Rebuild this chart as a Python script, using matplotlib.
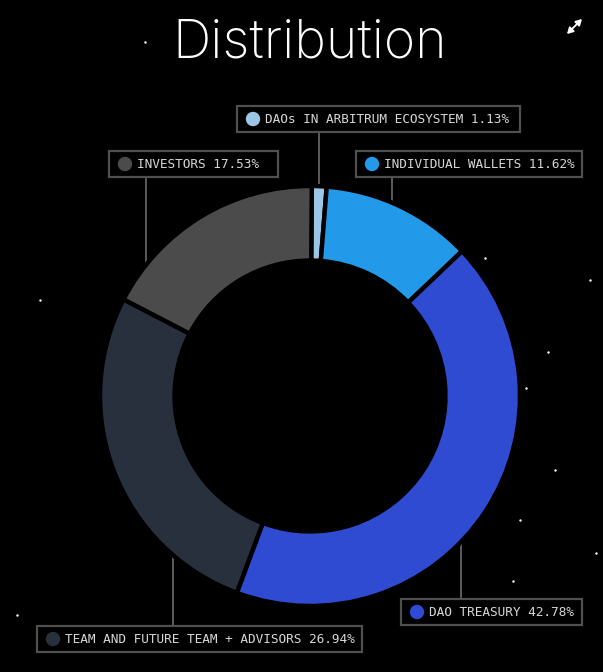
import numpy as np
import matplotlib.pyplot as plt
from matplotlib.patches import Rectangle, Circle

labels = ['DAOs IN ARBITRUM ECOSYSTEM', 'INDIVIDUAL WALLETS', 'DAO TREASURY',
          'TEAM AND FUTURE TEAM + ADVISORS', 'INVESTORS']
shares = [1.13, 11.62, 42.78, 26.94, 17.53]
colors = ['#9cc6e6', '#2299e9', '#2e4bd2', '#29303d', '#4b4b4b']

# label box layout (pixels): left, top, width, leader x, leader side
boxes = [(237, 106, 283, 319, 'top'),
         (356, 151, 226, 392, 'top'),
         (401, 599, 181, 461, 'bottom'),
         (37, 626, 325, 173, 'bottom'),
         (109, 151, 169, 146, 'top')]

stars = [(145, 42), (485, 258), (548, 352), (526, 388), (513, 581), (17, 615),
         (596, 553), (520, 520), (555, 470), (40, 300), (590, 280)]

W, H = 603, 672
cx, cy, R = 310, 396, 210

fig = plt.figure(figsize=(W / 100, H / 100), dpi=100, facecolor='black')

# pie axes
ax = fig.add_axes([(cx - R) / W, (H - cy - R) / H, 2 * R / W, 2 * R / H])
ax.set_facecolor('black')
ax.pie(shares, colors=colors, startangle=89.5, counterclock=False, radius=1.0,
       wedgeprops=dict(width=0.355, edgecolor='black', linewidth=3.2, joinstyle='round'))
ax.set_xlim(-1, 1)
ax.set_ylim(-1, 1)
ax.set_aspect('equal')
ax.axis('off')

# overlay in pixel coordinates
ov = fig.add_axes([0, 0, 1, 1], zorder=-1)
ov.set_xlim(0, W)
ov.set_ylim(H, 0)
ov.axis('off')
ov.set_facecolor('black')

ov2 = fig.add_axes([0, 0, 1, 1], zorder=5)
ov2.set_xlim(0, W)
ov2.set_ylim(H, 0)
ov2.axis('off')
ov2.patch.set_alpha(0)

for (x0, y0, bw, lx, side), lab, val, col in zip(boxes, labels, shares, colors):
    bh = 26
    dy = np.sqrt(max(R ** 2 - (lx - cx) ** 2, 0))
    if side == 'top':
        ov.plot([lx, lx], [y0 + bh, cy - dy + 3], color='#6a6a6a', lw=1.2)
    else:
        ov.plot([lx, lx], [cy + dy - 3, y0], color='#6a6a6a', lw=1.2)
    ov2.add_patch(Rectangle((x0, y0), bw, bh, facecolor='black',
                            edgecolor='#4f4f4f', lw=1.6))
    ov2.add_patch(Circle((x0 + 16, y0 + bh / 2), 6.5, color=col))
    ov2.text(x0 + 28, y0 + bh / 2 + 0.5, f'{lab} {val:.2f}%', color='#d6d6d6',
             fontsize=9.2, family='DejaVu Sans Mono', va='center', ha='left')

ov.scatter([s[0] for s in stars], [s[1] for s in stars], s=3, color='white', lw=0)

# expand icon
ov2.annotate('', xy=(582, 19), xytext=(567, 34),
             arrowprops=dict(arrowstyle='<|-|>,head_length=0.35,head_width=0.2',
                             color='white', lw=1.3, shrinkA=0, shrinkB=0))

ov2.text(310, 44, 'Distribution', color='white', fontsize=38.5, ha='center',
         va='center', family='Inter', fontweight='light')

fig.savefig('out.png', dpi=100, facecolor='black')
